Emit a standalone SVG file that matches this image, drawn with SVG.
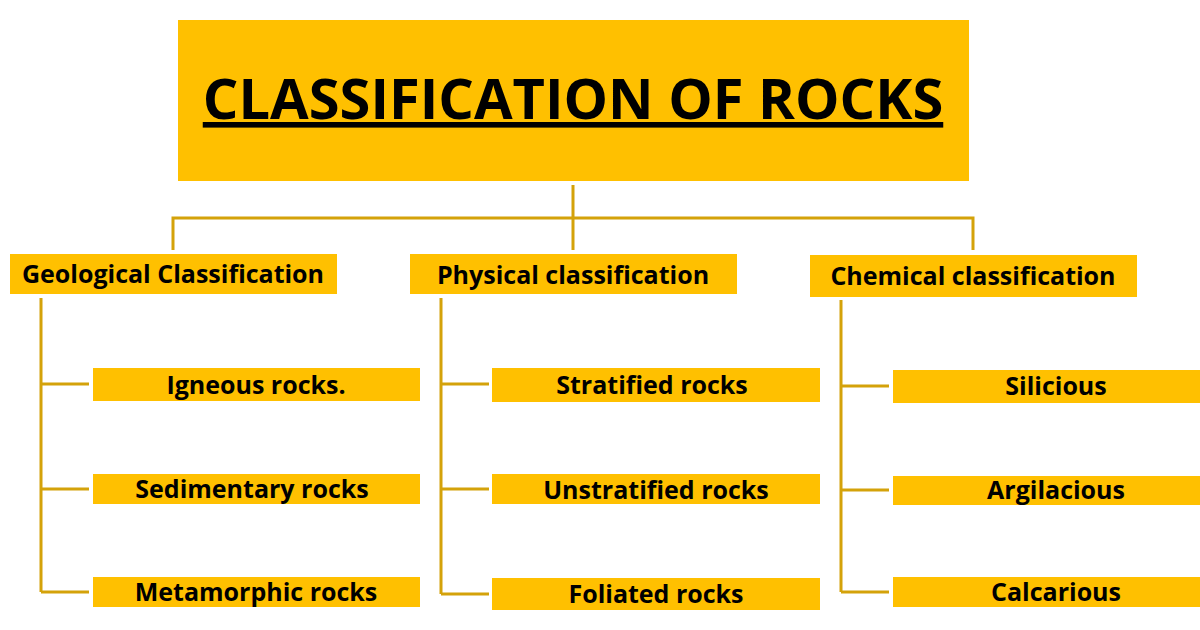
<svg xmlns="http://www.w3.org/2000/svg" width="1200" height="630" viewBox="0 0 1200 630">
<style>
.b{fill:#FFC000}
.t{font-family:"Open Sans","Liberation Sans",sans-serif;font-weight:bold;fill:#000;text-anchor:middle}
.s{font-size:25px}
.c{fill:none;stroke:#D4A20A;stroke-width:3}
</style>
<rect width="1200" height="630" fill="#fff"/>
<g id="title"><rect class="b" x="178" y="20" width="791" height="161"/>
<text class="t" x="573" y="119" font-size="56" text-decoration="underline">CLASSIFICATION OF ROCKS</text></g>
<g id="connectors" class="c">
<path d="M573 185V218M173 250V218H973V250M573 218V250"/>
<path d="M41 298V592M41 384H89M41 489H89M41 592H89"/>
<path d="M441 298V594M441 384H489M441 489H489M441 594H489"/>
<path d="M841 300V592M841 386H889M841 490H889M841 592H889"/>
</g>
<g id="geo"><rect class="b" x="10" y="254" width="327" height="40"/><text class="t s" x="173" y="283">Geological Classification</text></g>
<g id="phys"><rect class="b" x="410" y="254" width="327" height="40"/><text class="t s" x="573" y="284">Physical classification</text></g>
<g id="chem"><rect class="b" x="810" y="255" width="327" height="42"/><text class="t s" x="973" y="285">Chemical classification</text></g>
<g id="igneous"><rect class="b" x="93" y="368" width="327" height="33"/><text class="t s" x="256" y="394">Igneous rocks.</text></g>
<g id="sedimentary"><rect class="b" x="93" y="474" width="327" height="30"/><text class="t s" x="252" y="498">Sedimentary rocks</text></g>
<g id="metamorphic"><rect class="b" x="93" y="577" width="327" height="30"/><text class="t s" x="256" y="601">Metamorphic rocks</text></g>
<g id="stratified"><rect class="b" x="492" y="368" width="328" height="34"/><text class="t s" x="652" y="394">Stratified rocks</text></g>
<g id="unstratified"><rect class="b" x="492" y="474" width="328" height="30"/><text class="t s" x="656" y="499">Unstratified rocks</text></g>
<g id="foliated"><rect class="b" x="492" y="578" width="328" height="32"/><text class="t s" x="656" y="603">Foliated rocks</text></g>
<g id="silicious"><rect class="b" x="893" y="370" width="307" height="33"/><text class="t s" x="1056" y="395">Silicious</text></g>
<g id="argilacious"><rect class="b" x="893" y="476" width="307" height="29"/><text class="t s" x="1056" y="499">Argilacious</text></g>
<g id="calcarious"><rect class="b" x="893" y="577" width="307" height="30"/><text class="t s" x="1056" y="601">Calcarious</text></g>
</svg>
